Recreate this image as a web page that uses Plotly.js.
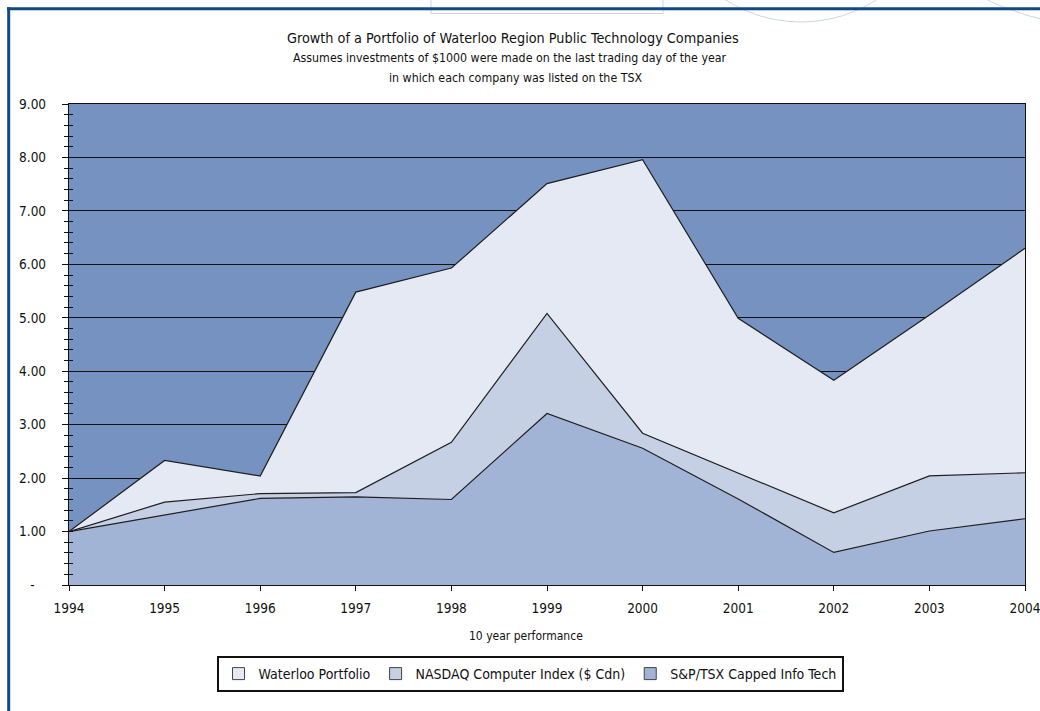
<!DOCTYPE html>
<html>
<head>
<meta charset="utf-8">
<script src="https://cdn.plot.ly/plotly-3.0.1.min.js"></script>
<style>
  html, body { margin: 0; padding: 0; background: #ffffff; }
  #wrap { position: relative; width: 1040px; height: 711px; overflow: hidden; }
  #decor { position: absolute; left: 0; top: 0; }
  #chart { position: absolute; left: 0; top: 0; width: 1040px; height: 711px; }
</style>
</head>
<body>
<div id="wrap">
  <svg id="decor" width="1040" height="711">
    <rect x="431" y="-5" width="232" height="18.5" fill="none" stroke="#cdd6e6" stroke-width="1"/>
    <circle cx="801" cy="-118" r="140" fill="none" stroke="#cdd6e6" stroke-width="1"/>
    <circle cx="1100" cy="-230" r="256" fill="none" stroke="#cdd6e6" stroke-width="1"/>
    <line x1="7" y1="8.7" x2="1040" y2="8.7" stroke="#0f4a86" stroke-width="3"/>
    <line x1="8.7" y1="7.2" x2="8.7" y2="711" stroke="#0f4a86" stroke-width="3"/>
  </svg>
  <div id="chart"></div>
</div>
<script>
// ---- data ----
const years = [1994, 1995, 1996, 1997, 1998, 1999, 2000, 2001, 2002, 2003, 2004];
const waterloo = [1.00, 2.33, 2.04, 5.48, 5.93, 7.51, 7.96, 4.99, 3.83, 5.05, 6.30];
const nasdaq   = [1.00, 1.55, 1.71, 1.73, 2.67, 5.08, 2.84, 2.10, 1.35, 2.04, 2.10];
const sptsx    = [1.00, 1.31, 1.62, 1.65, 1.60, 3.21, 2.56, 1.61, 0.61, 1.01, 1.24];
const seriesNames = ['Waterloo Portfolio', 'NASDAQ Computer Index ($ Cdn)', 'S&P/TSX Capped Info Tech'];
const yTickVals = [0, 1, 2, 3, 4, 5, 6, 7, 8, 9];
const yTickText = ['-\u00a0\u00a0\u00a0', '1.00', '2.00', '3.00', '4.00', '5.00', '6.00', '7.00', '8.00', '9.00'];
const titleLines = [
  'Growth of a Portfolio of Waterloo Region Public Technology Companies',
  'Assumes investments of $1000 were made on the last trading day of the year',
  'in which each company was listed on the TSX'
];
const xTitle = '10 year performance';

// ---- style ----
const NARROW = '"Liberation Sans Narrow", "Arial Narrow", "DejaVu Sans Condensed", sans-serif';
const fills = ['#e4e9f3', '#c5d0e5', '#a1b4d5'];
const lineCol = '#1e1e1e';
const seriesData = [waterloo, nasdaq, sptsx];

const traces = [];
seriesData.forEach((vals, i) => {
  traces.push({
    type: 'scatter', mode: 'lines', x: years, y: vals,
    fill: 'tozeroy', fillcolor: fills[i],
    line: { color: lineCol, width: 1.2 },
    name: seriesNames[i], showlegend: false, hoverinfo: 'x+y+name'
  });
});
// legend swatches (no data drawn)
seriesNames.forEach((nm, i) => {
  traces.push({
    type: 'bar', x: [null], y: [null], name: nm, yaxis: 'y2',
    marker: { color: fills[i], line: { color: '#444', width: 1 } }
  });
});

const plotL = 69, plotR = 1025, plotT = 104, plotB = 585;
const W = 1040, H = 711;
const px2x = p => (p - plotL) / (plotR - plotL);
const px2y = p => (plotB - p) / (plotB - plotT);

const annotations = [
  { text: titleLines[0], x: px2x(513), y: px2y(38), size: 14.3 },
  { text: titleLines[1], x: px2x(510), y: px2y(58), size: 12.3 },
  { text: titleLines[2], x: px2x(515), y: px2y(78), size: 12.3 },
  { text: xTitle, x: px2x(526), y: px2y(636), size: 12 }
].map(a => ({
  text: a.text, x: a.x, y: a.y, xref: 'paper', yref: 'paper',
  xanchor: 'center', yanchor: 'middle', showarrow: false,
  font: { family: NARROW, size: a.size, color: '#111' }
}));

const tickFont = { family: NARROW, size: 13.5, color: '#111' };

const layout = {
  width: W, height: H,
  margin: { l: plotL, r: W - plotR, t: plotT, b: H - plotB, pad: 0 },
  paper_bgcolor: 'rgba(0,0,0,0)',
  plot_bgcolor: '#7592c1',
  font: { family: NARROW, size: 13, color: '#111' },
  showlegend: true,
  legend: {
    orientation: 'h', x: px2x(530), xanchor: 'center', y: px2y(674), yanchor: 'middle',
    bgcolor: '#ffffff', bordercolor: '#111', borderwidth: 2,
    font: { family: NARROW, size: 14, color: '#111' },
    itemwidth: 30, traceorder: 'normal'
  },
  xaxis: {
    range: [1994, 2004], tickvals: years, ticktext: years.map(String),
    ticks: 'outside', ticklen: 5, tickcolor: '#111', tickwidth: 1,
    showgrid: false, zeroline: false,
    showline: true, linecolor: '#111', linewidth: 1.2, mirror: true,
    ticklabelstandoff: 6, ticklabeloverflow: 'allow',
    tickfont: tickFont,
    fixedrange: true
  },
  yaxis: {
    range: [0, 9], tickvals: yTickVals, ticktext: yTickText,
    ticks: 'outside', ticklen: 6, tickcolor: '#111', tickwidth: 1,
    showgrid: true, gridcolor: '#111', gridwidth: 1,
    zeroline: false, showline: true, linecolor: '#111', linewidth: 1.2, mirror: true,
    minor: { dtick: 0.2, tick0: 0, ticks: 'outside', ticklen: 4, tickcolor: '#111', tickwidth: 1, showgrid: false },
    ticklabelstandoff: 13, ticklabeloverflow: 'allow',
    tickfont: tickFont,
    fixedrange: true
  },
  yaxis2: {
    overlaying: 'y', side: 'left', range: [0, 9], tickvals: yTickVals,
    showticklabels: false, ticks: 'inside', ticklen: 4, tickcolor: '#111', tickwidth: 1,
    minor: { dtick: 0.2, tick0: 0, ticks: 'inside', ticklen: 4, tickcolor: '#111', tickwidth: 1, showgrid: false },
    showgrid: false, zeroline: false, showline: false, fixedrange: true
  },
  annotations: annotations,
  hovermode: false
};

Plotly.newPlot('chart', traces, layout, { displayModeBar: false, staticPlot: true });
</script>
</body>
</html>
